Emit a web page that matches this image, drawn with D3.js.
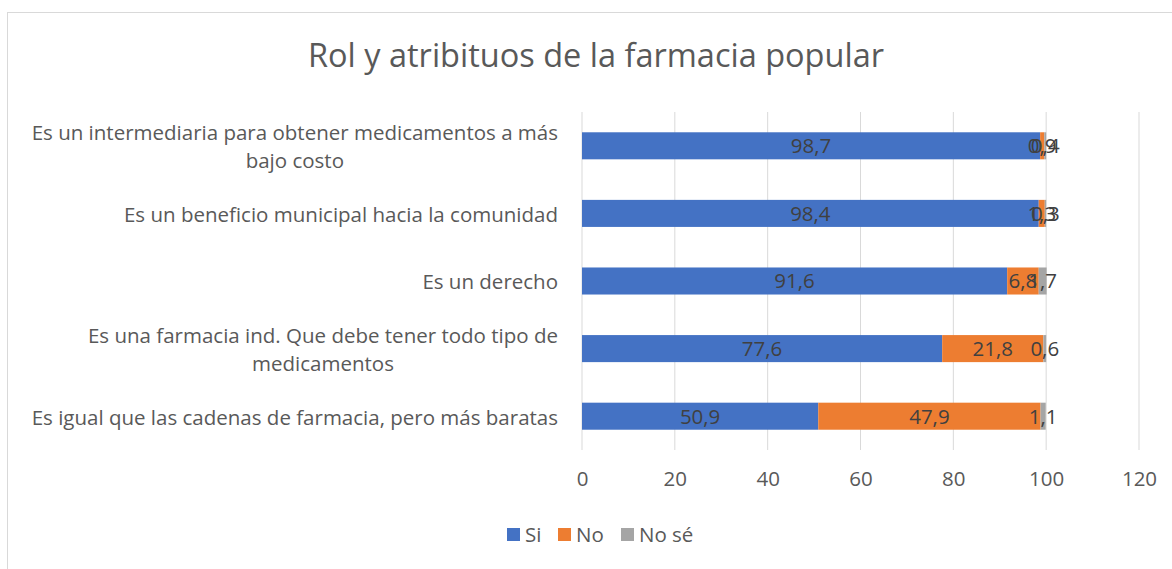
<!DOCTYPE html>
<html>
<head>
<meta charset="utf-8">
<script src="https://cdn.jsdelivr.net/npm/d3@7"></script>
<style>
  body { margin: 0; background: #fff; }
  text { font-family: "Open Sans", "Liberation Sans", sans-serif; }
</style>
</head>
<body>
<div id="chart"></div>
<script>
// categories, top to bottom
var categories = [
    "Es un intermediaria para obtener medicamentos a más bajo costo",
    "Es un beneficio municipal hacia la comunidad",
    "Es un derecho",
    "Es una farmacia ind. Que debe tener todo tipo de medicamentos",
    "Es igual que las cadenas de farmacia, pero más baratas"
];
var seriesNames = ["Si", "No", "No sé"];
var siValues = [98.7, 98.4, 91.6, 77.6, 50.9];
var noValues = [0.9, 1.3, 6.8, 21.8, 47.9];
var nsValues = [0.4, 0.3, 1.7, 0.6, 1.1];
var xTicks = [0, 20, 40, 60, 80, 100, 120];
var colors = ["#4472C4", "#ED7D31", "#A5A5A5"];

var W = 1172, H = 569;
var margin = { top: 112, right: 34, bottom: 119, left: 582 };
var width = 1139 - margin.left;
var height = H - margin.top - margin.bottom;
var fontSize = "20.5px";

var svg = d3.select("#chart").append("svg")
    .attr("width", W)
    .attr("height", H);

// chart frame
svg.append("rect")
    .attr("x", 7.5).attr("y", 12.5)
    .attr("width", W + 10).attr("height", H + 10)
    .attr("fill", "#fff")
    .attr("stroke", "#d9d9d9")
    .attr("stroke-width", 1);

svg.append("text")
    .attr("x", 596).attr("y", 67)
    .attr("text-anchor", "middle")
    .attr("fill", "#595959")
    .style("font-size", "32.5px")
    .text("Rol y atribituos de la farmacia popular");

var g = svg.append("g")
    .attr("transform", "translate(" + margin.left + "," + margin.top + ")");

var x = d3.scaleLinear().domain([0, 120]).range([0, width]);
var y = d3.scaleBand().domain(categories).range([0, height])
    .paddingInner(0.6).paddingOuter(0.3);

// gridlines
g.selectAll(".grid").data(xTicks).enter().append("line")
    .attr("class", "grid")
    .attr("x1", function(d) { return x(d); })
    .attr("x2", function(d) { return x(d); })
    .attr("y1", 0).attr("y2", height)
    .attr("stroke", "#d9d9d9").attr("stroke-width", 1);

// x axis labels
var xAxis = d3.axisBottom(x).tickValues(xTicks).tickSize(0).tickPadding(21);
var ax = g.append("g").attr("transform", "translate(0," + height + ")").call(xAxis);
ax.select(".domain").remove();
ax.selectAll("text")
    .attr("fill", "#595959")
    .style("font-size", fontSize)
    .style("font-family", "'Open Sans', sans-serif");

// stack the series
var rows = categories.map(function(c, i) {
    return { cat: c, "Si": siValues[i], "No": noValues[i], "No sé": nsValues[i] };
});
var stacked = d3.stack().keys(seriesNames)(rows);

var layers = g.selectAll(".layer").data(stacked).enter().append("g")
    .attr("class", "layer")
    .attr("fill", function(d, i) { return colors[i]; });

layers.selectAll("rect").data(function(d) { return d; }).enter().append("rect")
    .attr("x", function(d) { return x(d[0]); })
    .attr("y", function(d) { return y(d.data.cat); })
    .attr("width", function(d) { return x(d[1]) - x(d[0]); })
    .attr("height", y.bandwidth());

// value labels (small ones overlap like in the original)
var fmt = function(v) { return String(v).replace(".", ","); };
stacked.forEach(function(layer) {
    g.selectAll(".lbl-" + layer.index).data(layer).enter().append("text")
        .attr("x", function(d) { return x((d[0] + d[1]) / 2); })
        .attr("y", function(d) { return y(d.data.cat) + y.bandwidth() / 2; })
        .attr("dy", "0.36em")
        .attr("text-anchor", "middle")
        .attr("fill", "#404040")
        .style("font-size", fontSize)
        .text(function(d) { return fmt(+(d[1] - d[0]).toFixed(1)); });
});

// category labels, wrapped and centred as a block against the axis
var maxW = 540, lineH = 28, labelRight = 558;
categories.forEach(function(c) {
    var t = svg.append("text")
        .attr("fill", "#595959")
        .style("font-size", fontSize);
    var words = c.split(" "), lines = [], cur = [];
    words.forEach(function(w) {
        cur.push(w);
        t.text(cur.join(" "));
        if (t.node().getComputedTextLength() > maxW && cur.length > 1) {
            cur.pop();
            lines.push(cur.join(" "));
            cur = [w];
        }
    });
    lines.push(cur.join(" "));
    var widest = 0;
    lines.forEach(function(l) {
        t.text(l);
        widest = Math.max(widest, t.node().getComputedTextLength());
    });
    t.text(null).attr("text-anchor", "middle");
    var cx = labelRight - widest / 2;
    var cy = margin.top + y(c) + y.bandwidth() / 2 + 1;
    var y0 = cy - (lines.length - 1) * lineH / 2;
    lines.forEach(function(l, i) {
        t.append("tspan").attr("x", cx)
            .attr("y", y0 + i * lineH).attr("dy", "0.36em").text(l);
    });
});

// legend
var legX = [507, 558, 621];
var leg = svg.selectAll(".leg").data(seriesNames).enter().append("g")
    .attr("transform", function(d, i) { return "translate(" + legX[i] + ",528)"; });
leg.append("rect").attr("width", 13).attr("height", 13)
    .attr("fill", function(d, i) { return colors[i]; });
leg.append("text").attr("x", 18).attr("y", 7).attr("dy", "0.36em")
    .attr("fill", "#595959").style("font-size", fontSize)
    .text(function(d) { return d; });
</script>
</body>
</html>
